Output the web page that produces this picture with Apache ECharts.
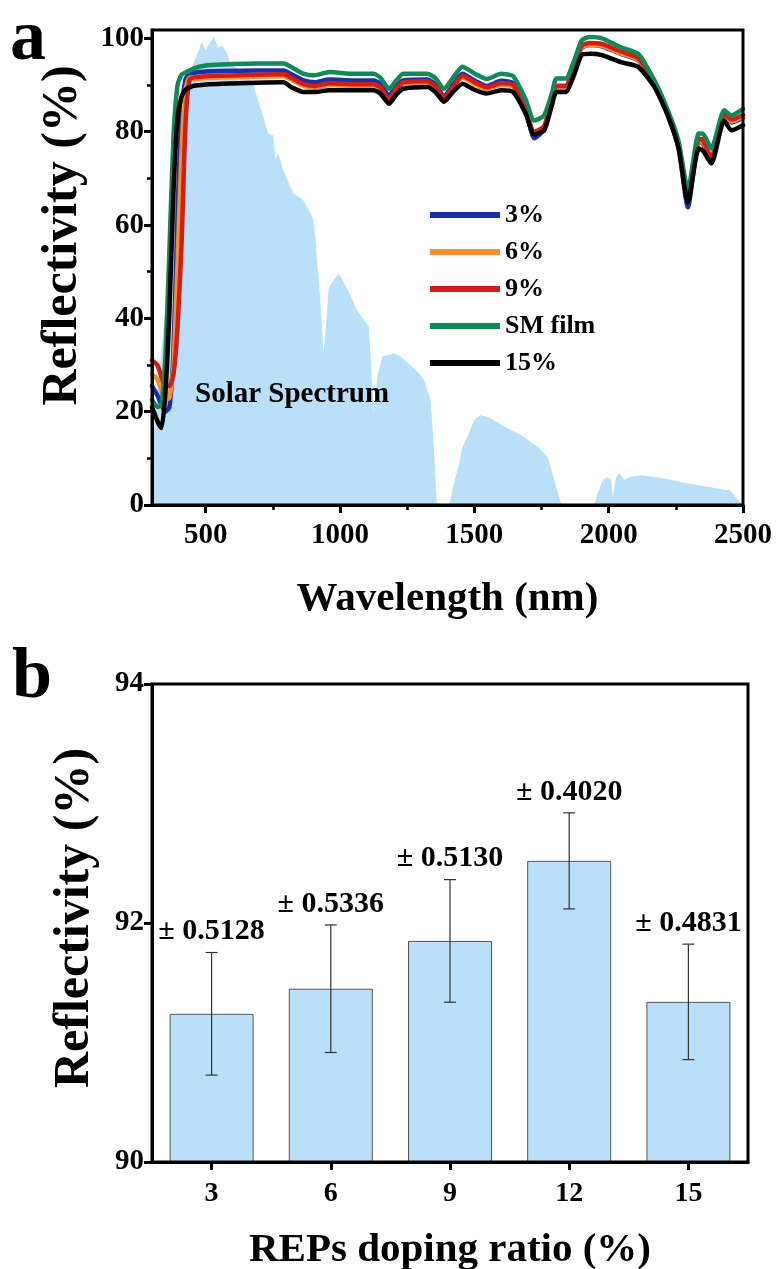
<!DOCTYPE html>
<html><head><meta charset="utf-8">
<script src="https://cdn.jsdelivr.net/npm/echarts@6/dist/echarts.min.js"></script>
<style>html,body{margin:0;padding:0;background:#fff}#c{width:781px;height:1269px}</style>
</head><body><div id="c"></div>
<script>
// ---------- Panel a data ----------
const wavelengths = [300,320,335,350,365,380,395,410,425,440,460,500,560,690,790,820,865,905,960,1050,1125,1150,1182,1210,1235,1325,1355,1387,1420,1456,1500,1545,1600,1645,1690,1723,1760,1790,1805,1840,1870,1900,1930,1975,2045,2110,2170,2220,2260,2295,2335,2350,2382,2430,2457,2500];
const refl3 = [25.5,23.5,21.5,20,21,33,62,84,91.3,92.4,92.7,92.9,93,93.1,93.1,92.3,91,90.6,91.2,91,91,90.3,87.8,89.8,91,91.2,90.2,87.6,90,92.4,91,89.8,90.9,90.4,85,78.6,80.5,87,89.8,89.8,93.5,98,98.6,98.3,96.7,95.3,90.2,83.5,76.5,63.8,77.8,77.5,73.5,83.2,82,83];
const refl6 = [28,27,24.5,22.5,23,30,52,76,89,91.6,91.3,91.5,91.6,91.8,91.9,91.1,89.8,89.4,90,89.8,89.8,89.1,86.6,88.8,90.2,90.4,89.4,86.9,89.2,91.6,90.2,89.1,90,89.6,84.6,79.6,80.9,87.2,89.4,89.4,93.6,98.1,98.6,98.4,96.8,95.4,90.2,83.8,76.8,65.5,78,77.8,74,83.4,82.2,83.2];
const refl9 = [31,30,27.5,25.5,25.5,28,38,56,82,91.2,91.7,91.9,92,92.2,92.3,91.5,90.2,89.8,90.4,90.2,90.2,89.5,87,89.2,90.6,90.8,89.8,87.3,89.6,92,90.6,89.5,90.4,90,84.8,80,81.2,87.5,89.8,89.8,94,98.5,99,98.8,97.2,95.8,90.5,84,77,65.8,78.5,78.3,74.5,83.8,82.6,83.6];
const reflSM = [22.5,21,21.5,32,55,79,90,92.2,92.7,93.1,93.7,94.2,94.4,94.6,94.6,93.8,92.4,92.1,92.8,92.4,92.4,91.6,89.2,91,92.4,92.4,91.5,89.2,91.5,93.9,92.5,91.3,92.4,91.9,87,82.4,83.5,88.5,91.4,91.4,95,99.6,100.3,100,98.1,96.7,91,84.6,78,67.5,79.6,79.6,76.4,84.6,83.5,84.9];
const refl15 = [21,18,16.5,24,42,67,83,87.5,89,89.5,89.9,90.1,90.3,90.5,90.6,89.5,88.5,88.5,88.9,88.9,88.9,88.2,86,88,89.2,89.6,88.5,86.4,88.5,90.3,89,88.2,88.9,88.5,84,79.4,80.3,86,88.5,88.5,92,96.5,96.7,96.4,94.9,93.9,89.6,83.5,76.5,64.9,76.4,76,73.2,82.4,80.3,81.4];
const seriesNames = ['3%','6%','9%','SM film','15%'];

const solarWl = [300,305,310,320,330,350,380,400,420,450,485,500,515,531,545,560,579,591,620,650,677,691,715,733,751,760,770,789,826,863,890,901,910,915,925,939,950,958,995,1030,1063,1107,1113,1120,1126,1140,1157,1200,1225,1260,1290,1313,1337,1349,1360,1365,1406,1418,1443,1456,1474,1499,1524,1561,1611,1673,1735,1773,1797,1822,1830,1947,1959,1978,1996,2009,2015,2028,2040,2059,2077,2121,2208,2295,2370,2432,2450,2481,2500];
const solarVal = [8,14,18,24,30,42,60,78,86,94,99.2,97.5,99,100.3,98,98.5,97,94.6,93.5,92,90.3,87.4,83.1,79.6,79.2,74,75.4,71.7,66.8,65.3,62.5,61,56,51.8,45,32.5,40,46.7,49.6,46,41.8,38.2,32.5,25,20,28,31.8,32.5,31.8,30,28.5,26.8,22.5,12.5,0.4,0,0,3.2,8.9,12.5,14.6,18.2,19.3,18.6,16.8,15,12.5,10.3,5.4,0.4,0,0,2.5,5.4,6,5.4,1.8,6,6.8,5.4,6,6.4,5.7,4.6,3.9,3.2,3.2,1.1,0];

const xTicksA = [500,1000,1500,2000,2500];
const xMinorA = [750,1250,1750,2250];
const yTicksA = [0,20,40,60,80,100];
const yMinorA = [10,30,50,70,90];

// ---------- Panel b data ----------
const dopingRatios = [3,6,9,12,15];
const meanRefl = [91.24,91.45,91.85,92.52,91.34];
const errRefl = [0.5128,0.5336,0.5130,0.4020,0.4831];
const yTicksB = [90,92,94];

// ---------- build ----------
const FONT = '"Liberation Serif","Times New Roman",serif';
const lineColors = ['#1b2fa6','#f39034','#d01f16','#13895a','#000000'];
const lineData = [refl3, refl6, refl9, reflSM, refl15];
const zip = (xs, ys) => xs.map((x, i) => [x, ys[i]]);
const BLUE_FILL = '#b9e0f8';
const plain = v => String(v);

const axisLineStyle = {show: true, onZero: false, lineStyle: {color: '#000', width: 3}};
const labelStyle = (sz) => ({color: '#000', fontFamily: FONT, fontWeight: 'bold', fontSize: sz});

const chart = echarts.init(document.getElementById('c'), null, {renderer: 'canvas'});
const option = {
  animation: false,
  backgroundColor: '#fff',
  grid: [
    {left: 152, top: 30, width: 591, height: 475, show: true, borderColor: '#000', borderWidth: 3, backgroundColor: 'transparent', containLabel: false, outerBoundsMode: 'none', z: 10},
    {left: 152, top: 684, width: 596, height: 478, show: true, borderColor: '#000', borderWidth: 3, backgroundColor: 'transparent', containLabel: false, outerBoundsMode: 'none', z: 10}
  ],
  legend: {
    data: seriesNames, orient: 'vertical', left: 425, top: 197,
    icon: 'rect', itemWidth: 70, itemHeight: 6, itemGap: 11,
    textStyle: Object.assign(labelStyle(26), {lineHeight: 26}),
    selectedMode: false
  },
  xAxis: [
    {gridIndex: 0, type: 'value', min: 300, max: 2500, position: 'bottom', z: 10,
     axisLine: axisLineStyle, splitLine: {show: false},
     axisTick: {show: true, inside: false, length: 8, lineStyle: {color: '#000', width: 3}, customValues: xTicksA},
     axisLabel: Object.assign(labelStyle(29), {margin: 16, customValues: xTicksA, formatter: plain}),
     name: 'Wavelength (nm)', nameLocation: 'middle', nameGap: 74,
     nameTextStyle: labelStyle(41)},
    {gridIndex: 0, type: 'value', min: 300, max: 2500, position: 'bottom', z: 10,
     axisLine: {show: false}, splitLine: {show: false}, axisLabel: {show: false},
     axisTick: {show: true, inside: false, length: 5, lineStyle: {color: '#000', width: 2.5}, customValues: xMinorA}},
    {gridIndex: 1, type: 'value', min: 1.5, max: 16.5, position: 'bottom', z: 10,
     axisLine: axisLineStyle, splitLine: {show: false},
     axisTick: {show: true, inside: false, length: 8, lineStyle: {color: '#000', width: 3}, customValues: dopingRatios},
     axisLabel: Object.assign(labelStyle(28), {margin: 18, customValues: dopingRatios, formatter: plain}),
     name: 'REPs doping ratio (%)', nameLocation: 'middle', nameGap: 68,
     nameTextStyle: labelStyle(41)}
  ],
  yAxis: [
    {gridIndex: 0, type: 'value', min: 0, max: 101.8, position: 'left', z: 10,
     axisLine: axisLineStyle, splitLine: {show: false},
     axisTick: {show: true, inside: false, length: 8, lineStyle: {color: '#000', width: 3}, customValues: yTicksA},
     axisLabel: Object.assign(labelStyle(29), {margin: 8, customValues: yTicksA, formatter: plain}),
     name: 'Reflectivity (%)', nameLocation: 'middle', nameGap: 64,
     nameTextStyle: Object.assign(labelStyle(50), {padding: [0, 0, 0, 64]})},
    {gridIndex: 0, type: 'value', min: 0, max: 101.8, position: 'left', z: 10,
     axisLine: {show: false}, splitLine: {show: false}, axisLabel: {show: false},
     axisTick: {show: true, inside: false, length: 5, lineStyle: {color: '#000', width: 2.5}, customValues: yMinorA}},
    {gridIndex: 1, type: 'value', min: 90, max: 94, position: 'left', startValue: 90, z: 10,
     axisLine: axisLineStyle, splitLine: {show: false},
     axisTick: {show: true, inside: false, length: 8, lineStyle: {color: '#000', width: 3}, customValues: yTicksB},
     axisLabel: Object.assign(labelStyle(29), {margin: 8, customValues: yTicksB, formatter: plain}),
     name: 'Reflectivity (%)', nameLocation: 'middle', nameGap: 52,
     nameTextStyle: Object.assign(labelStyle(50), {padding: [0, 0, 0, 10]})}
  ],
  graphic: [
    {type: 'text', left: 10, top: 4, style: {text: 'a', font: 'bold 72px ' + FONT, fill: '#000'}},
    {type: 'text', left: 12, top: 642, style: {text: 'b', font: 'bold 72px ' + FONT, fill: '#000'}},
    {type: 'text', left: 195, top: 380, style: {text: 'Solar Spectrum', font: 'bold 29px ' + FONT, fill: '#000'}, z: 50}
  ],
  series: [
    {name: 'Solar Spectrum', type: 'line', xAxisIndex: 0, yAxisIndex: 0, data: zip(solarWl, solarVal),
     symbol: 'none', lineStyle: {width: 0, opacity: 0}, areaStyle: {color: BLUE_FILL, opacity: 1}, z: 1, silent: true}
  ].concat(lineData.map((d, i) => ({
     name: seriesNames[i], type: 'line', xAxisIndex: 0, yAxisIndex: 0, data: zip(wavelengths, d),
     symbol: 'none', smooth: 0.2, color: lineColors[i],
     lineStyle: {color: lineColors[i], width: 4.5, cap: 'round', join: 'round'}, z: 3 + i
  }))).concat([
    {name: 'bars', type: 'bar', xAxisIndex: 2, yAxisIndex: 2, data: zip(dopingRatios, meanRefl),
     barWidth: 84, itemStyle: {color: BLUE_FILL, borderColor: '#555', borderWidth: 1}, z: 2},
    {name: 'err', type: 'custom', xAxisIndex: 2, yAxisIndex: 2,
     data: dopingRatios.map((d, i) => [d, meanRefl[i], errRefl[i]]), z: 5,
     renderItem: function (params, api) {
       const x = api.value(0), m = api.value(1), e = api.value(2);
       const top = api.coord([x, m + e]), bot = api.coord([x, m - e]);
       const cap = 6, st = {stroke: '#333', lineWidth: 1.2};
       return {type: 'group', children: [
         {type: 'line', shape: {x1: top[0], y1: top[1], x2: bot[0], y2: bot[1]}, style: st},
         {type: 'line', shape: {x1: top[0] - cap, y1: top[1], x2: top[0] + cap, y2: top[1]}, style: st},
         {type: 'line', shape: {x1: bot[0] - cap, y1: bot[1], x2: bot[0] + cap, y2: bot[1]}, style: st},
         {type: 'text', x: top[0], y: top[1] - 6, style: {text: '\u00b1 ' + e.toFixed(4), fill: '#000',
           font: 'bold 30px ' + FONT, align: 'center', verticalAlign: 'bottom'}}
       ]};
     }}
  ])
};
chart.setOption(option);
</script>
</body></html>
